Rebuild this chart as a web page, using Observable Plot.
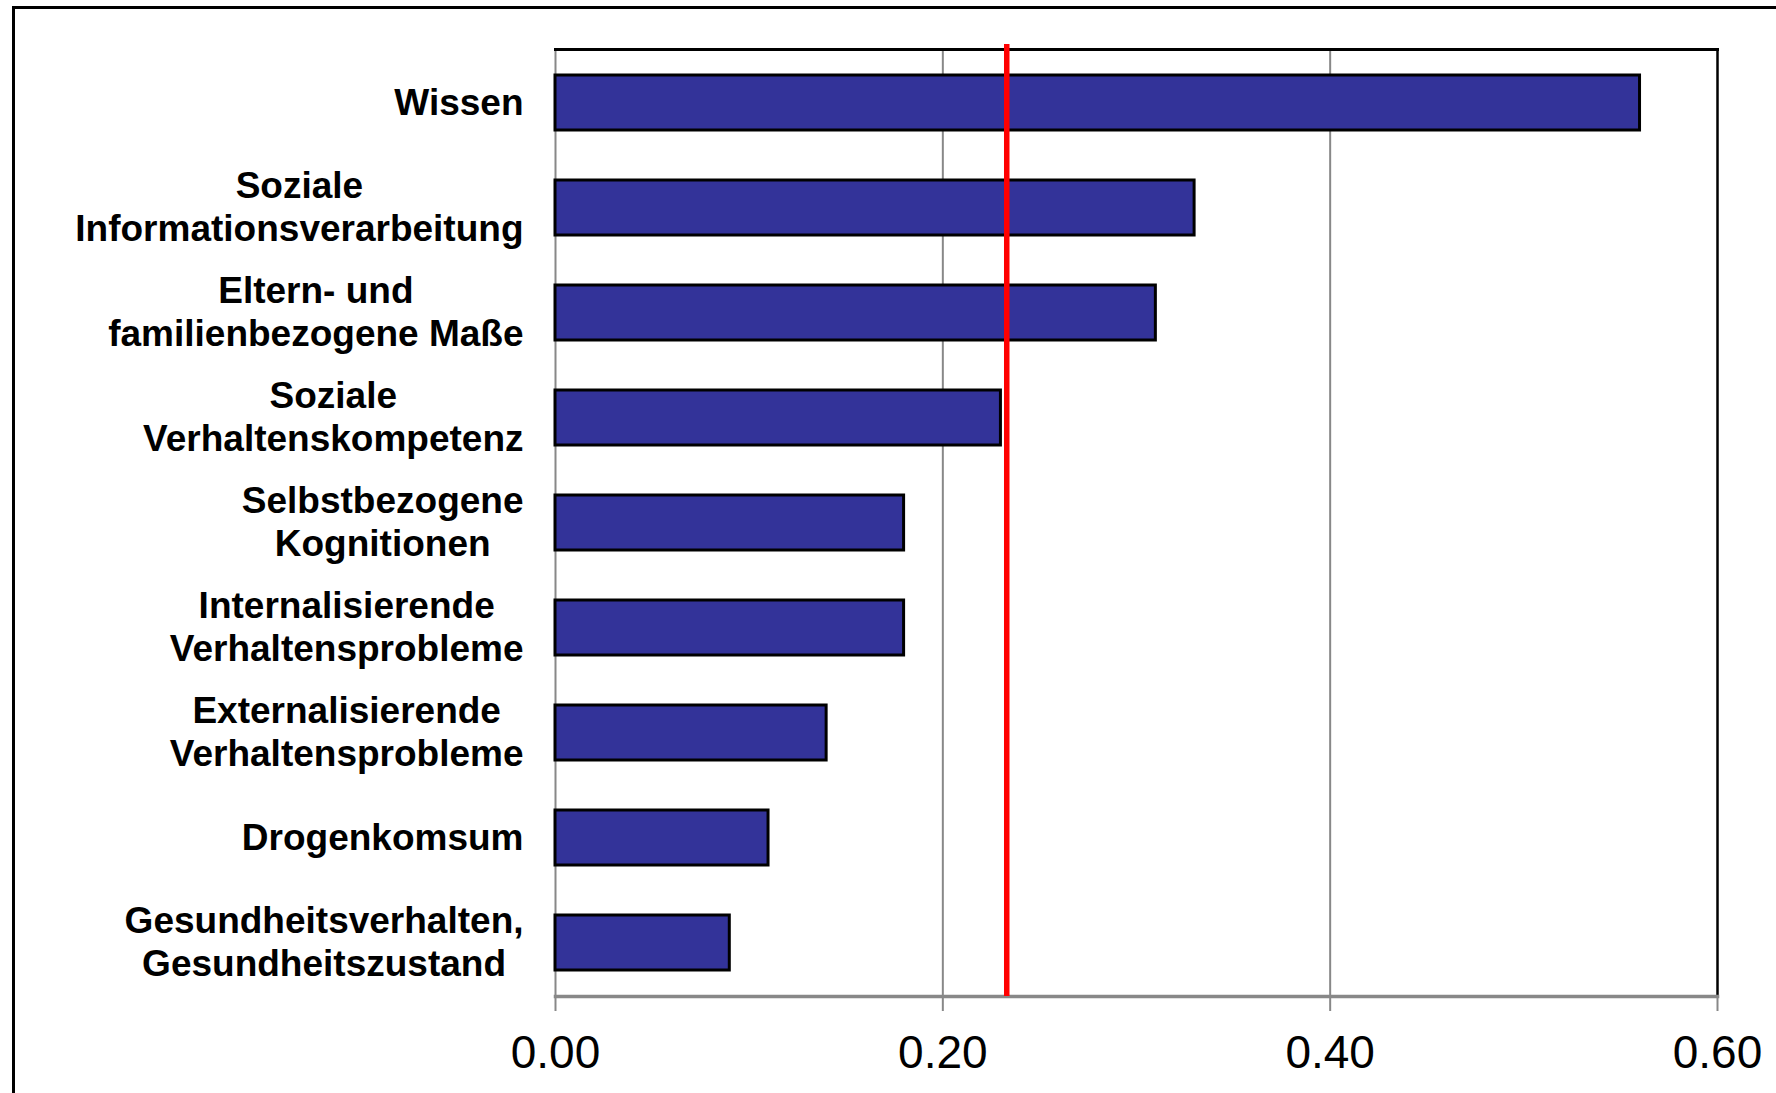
<!DOCTYPE html>
<html>
<head>
<meta charset="utf-8">
<script src="https://cdn.jsdelivr.net/npm/d3@7"></script>
<script src="https://cdn.jsdelivr.net/npm/@observablehq/plot@0.6"></script>
<style>
  html, body { margin: 0; padding: 0; background: #fff; overflow: hidden; }
  #wrap { position: relative; width: 1776px; height: 1093px; overflow: hidden; }
  #border { position: absolute; left: 12px; top: 6px; width: 1900px; height: 1300px;
            border: 3px solid #000; box-sizing: border-box; }
  #chart { position: absolute; left: 0; top: 0; }
</style>
</head>
<body>
<div id="wrap">
  <div id="border"></div>
  <div id="chart"></div>
</div>
<script>
// Effect sizes by outcome domain
const categories = [
  "Wissen",
  "Soziale\nInformationsverarbeitung",
  "Eltern- und\nfamilienbezogene Maße",
  "Soziale\nVerhaltenskompetenz",
  "Selbstbezogene\nKognitionen",
  "Internalisierende\nVerhaltensprobleme",
  "Externalisierende\nVerhaltensprobleme",
  "Drogenkomsum",
  "Gesundheitsverhalten,\nGesundheitszustand"
];
const values = [0.56, 0.33, 0.31, 0.23, 0.18, 0.18, 0.14, 0.11, 0.09];
const meanEffect = [0.233];
const xTicks = [0, 0.2, 0.4, 0.6];

const data = categories.map((c, i) => ({category: c, value: values[i]}));

// Labels are centred line by line, with the block right-aligned next to the axis
const labelSize = 37;
const labelGap = 32;
const ctx = document.createElement("canvas").getContext("2d");
ctx.font = `bold ${labelSize}px 'Liberation Sans', Arial, sans-serif`;
const labelMarks = categories.map(c => {
  const w = d3.max(c.split("\n"), s => ctx.measureText(s).width);
  return Plot.text([c], {
    y: d => d,
    frameAnchor: "left",
    textAnchor: "middle",
    dx: -(labelGap + w / 2),
    dy: -2,
    lineHeight: 1.16,
    fontSize: labelSize,
    fontWeight: "bold",
    fill: "#000"
  });
});

const chart = Plot.plot({
  width: 1776,
  height: 1093,
  marginLeft: 555,
  marginRight: 59,
  marginTop: 49,
  marginBottom: 97,
  style: {fontFamily: "'Liberation Sans', Arial, sans-serif", background: "transparent", overflow: "visible"},
  x: {domain: [0, 0.6], ticks: xTicks, tickFormat: d3.format(".2f")},
  y: {domain: categories, paddingInner: 0.48, paddingOuter: 0.24, axis: null},
  marks: [
    Plot.ruleX(xTicks.slice(0, 3), {stroke: "#888", strokeWidth: 2}),
    Plot.barX(data, {x: "value", y: "category", fill: "#333399", stroke: "#000", strokeWidth: 3}),
    Plot.frame({anchor: "top", stroke: "#000", strokeWidth: 3}),
    Plot.frame({anchor: "right", stroke: "#000", strokeWidth: 2.5}),
    Plot.frame({anchor: "bottom", stroke: "#888", strokeWidth: 3.5}),
    Plot.ruleX(meanEffect, {stroke: "#ff0000", strokeWidth: 5.5, insetTop: -5}),
    Plot.axisX({
      ticks: xTicks,
      tickFormat: d3.format(".2f"),
      tickSize: 15,
      tickPadding: 24,
      stroke: "#888",
      strokeWidth: 2,
      fontSize: 46,
      fill: "#000",
      label: null
    }),
    ...labelMarks
  ]
});
document.getElementById("chart").appendChild(chart);
</script>
</body>
</html>
